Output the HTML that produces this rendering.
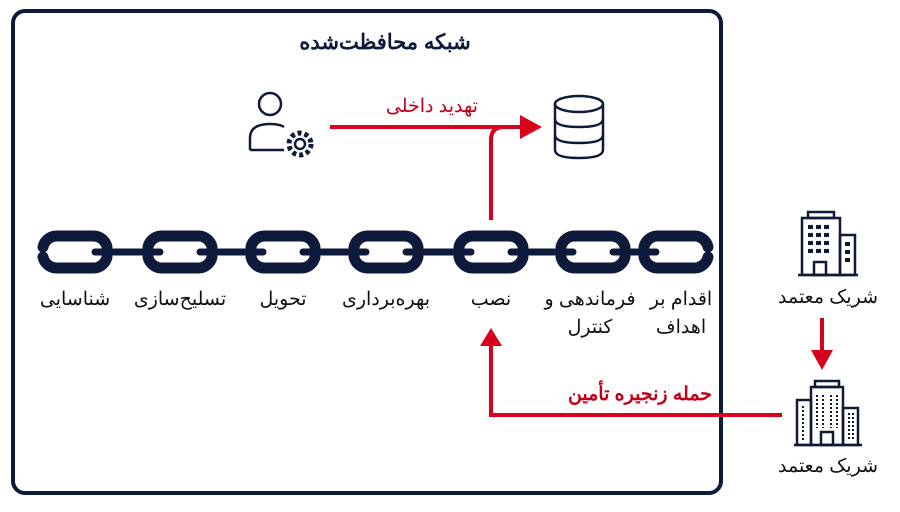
<!DOCTYPE html>
<html><head><meta charset="utf-8"><style>
body{margin:0;background:#fff;width:900px;height:507px;overflow:hidden}
svg text{font-family:"Liberation Sans","Noto Sans CJK SC",sans-serif}
</style></head><body>
<svg width="900" height="507" viewBox="0 0 900 507" xmlns="http://www.w3.org/2000/svg">
<rect x="13" y="11" width="708" height="482" rx="12" fill="#fff" stroke="#0f1a3a" stroke-width="4"/>
<text x="385" y="49" text-anchor="middle" font-size="21" font-weight="bold" fill="#0f1a3a" direction="rtl">شبکه محافظت‌شده</text>

<g stroke="#0f1a3a" fill="none" stroke-linecap="round" stroke-width="7">
<line x1="95" y1="252" x2="160" y2="252"/><line x1="200" y1="252" x2="263" y2="252"/>
<line x1="303" y1="252" x2="366" y2="252"/><line x1="406" y1="252" x2="471" y2="252"/>
<line x1="511" y1="252" x2="573" y2="252"/><line x1="613" y1="252" x2="656" y2="252"/>
</g>
<g stroke="#0f1a3a" fill="none" stroke-width="11" stroke-linecap="round">
<path d="M43 247 A14 14 0 0 1 57 236 L93 236 A14 14 0 0 1 107 247 M43 257 A14 14 0 0 0 57 268 L93 268 A14 14 0 0 0 107 257"/>
<path d="M148 247 A14 14 0 0 1 162 236 L198 236 A14 14 0 0 1 212 247 M148 257 A14 14 0 0 0 162 268 L198 268 A14 14 0 0 0 212 257"/>
<path d="M251 247 A14 14 0 0 1 265 236 L301 236 A14 14 0 0 1 315 247 M251 257 A14 14 0 0 0 265 268 L301 268 A14 14 0 0 0 315 257"/>
<path d="M354 247 A14 14 0 0 1 368 236 L404 236 A14 14 0 0 1 418 247 M354 257 A14 14 0 0 0 368 268 L404 268 A14 14 0 0 0 418 257"/>
<path d="M459 247 A14 14 0 0 1 473 236 L509 236 A14 14 0 0 1 523 247 M459 257 A14 14 0 0 0 473 268 L509 268 A14 14 0 0 0 523 257"/>
<path d="M561 247 A14 14 0 0 1 575 236 L611 236 A14 14 0 0 1 625 247 M561 257 A14 14 0 0 0 575 268 L611 268 A14 14 0 0 0 625 257"/>
<path d="M644 247 A14 14 0 0 1 658 236 L694 236 A14 14 0 0 1 708 247 M644 257 A14 14 0 0 0 658 268 L694 268 A14 14 0 0 0 708 257"/>
</g>

<g font-size="19" fill="#111" text-anchor="middle" direction="rtl">
<text x="75" y="305">شناسایی</text>
<text x="180" y="305">تسلیح‌سازی</text>
<text x="283" y="305">تحویل</text>
<text x="386" y="305">بهره‌برداری</text>
<text x="491" y="305">نصب</text>
<text x="590" y="305">فرماندهی و</text>
<text x="590" y="333">کنترل</text>
<text x="681" y="305">اقدام بر</text>
<text x="681" y="333">اهداف</text>
<text x="828" y="303">شریک معتمد</text>
<text x="828" y="472">شریک معتمد</text>
</g>

<g stroke="#d9001b" stroke-width="4" fill="none">
<line x1="330" y1="127" x2="528" y2="127"/>
<path d="M491 220 L491 140 Q491 127 504 127"/>
<path d="M782 415 L491 415 L491 345"/>
<line x1="822" y1="318" x2="822" y2="352"/>
</g>
<g fill="#d9001b">
<polygon points="520,115 542,127 520,139"/>
<polygon points="480,346 491,328 502,346"/>
<polygon points="811,350 833,350 822,370"/>
</g>
<text x="432" y="112" text-anchor="middle" font-size="19" fill="#c00018" direction="rtl">تهدید داخلی</text>
<text x="640" y="400" text-anchor="middle" font-size="19" font-weight="bold" fill="#c00018" direction="rtl">حمله زنجیره تأمین</text>

<g stroke="#0f1a3a" stroke-width="2.5" fill="none">
<circle cx="270" cy="104" r="11"/>
<path d="M250 150 L250 138 Q250 124 270 124 Q280 124 284 127"/>
<line x1="250" y1="150" x2="284" y2="150"/>
<circle cx="300" cy="144" r="11" stroke-dasharray="4 3" stroke-width="5"/>
<circle cx="300" cy="144" r="5"/>
</g>
<g stroke="#0f1a3a" stroke-width="2.5" fill="none">
<ellipse cx="579" cy="104" rx="24" ry="8"/>
<path d="M555 104 L555 150 Q555 158 579 158 Q603 158 603 150 L603 104"/>
<path d="M555 119 Q555 127 579 127 Q603 127 603 119"/>
<path d="M555 135 Q555 143 579 143 Q603 143 603 135"/>
</g>
<g stroke="#0f1a3a" stroke-width="2.5" fill="none">
<rect x="808" y="212" width="26" height="6"/>
<rect x="802" y="218" width="38" height="57"/>
<rect x="840" y="235" width="15" height="40"/>
<rect x="814" y="262" width="12" height="13"/>
<line x1="798" y1="275" x2="858" y2="275"/>
</g>
<g fill="#0f1a3a">
<rect x="808" y="225" width="5" height="4"/><rect x="816" y="225" width="5" height="4"/><rect x="824" y="225" width="5" height="4"/>
<rect x="808" y="233" width="5" height="4"/><rect x="816" y="233" width="5" height="4"/><rect x="824" y="233" width="5" height="4"/>
<rect x="808" y="241" width="5" height="4"/><rect x="816" y="241" width="5" height="4"/><rect x="824" y="241" width="5" height="4"/>
<rect x="808" y="249" width="5" height="4"/><rect x="816" y="249" width="5" height="4"/><rect x="824" y="249" width="5" height="4"/>
<rect x="845" y="242" width="5" height="4"/><rect x="845" y="250" width="5" height="4"/><rect x="845" y="258" width="5" height="4"/>
</g>
<g stroke="#0f1a3a" stroke-width="2.5" fill="none">
<rect x="815" y="381" width="24" height="6"/>
<rect x="811" y="387" width="32" height="58"/>
<rect x="797" y="400" width="14" height="45"/>
<rect x="843" y="408" width="15" height="37"/>
<rect x="821" y="432" width="12" height="13"/>
<line x1="794" y1="445" x2="862" y2="445"/>
</g>
<g stroke="#0f1a3a" stroke-width="2" stroke-dasharray="2 2">
<line x1="817" y1="395" x2="817" y2="428"/><line x1="823" y1="395" x2="823" y2="428"/>
<line x1="831" y1="395" x2="831" y2="428"/><line x1="837" y1="395" x2="837" y2="428"/>
<line x1="803" y1="406" x2="803" y2="440"/><line x1="849" y1="413" x2="849" y2="440"/><line x1="853" y1="413" x2="853" y2="440"/>
</g>
</svg>
</body></html>
